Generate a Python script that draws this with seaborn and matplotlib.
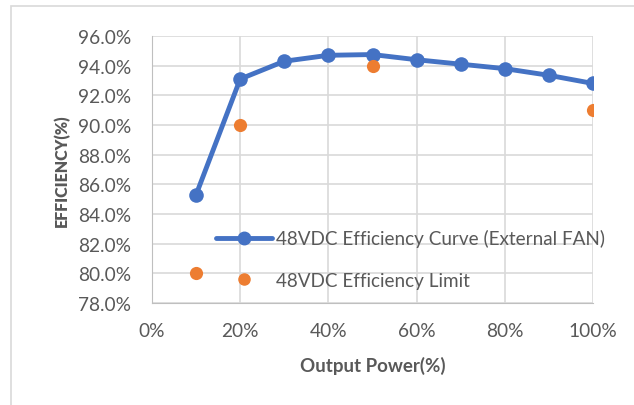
"""Efficiency vs. output power for the 48VDC supply."""

import matplotlib

matplotlib.use("Agg")
import matplotlib.pyplot as plt
import pandas as pd
import seaborn as sns
from matplotlib.lines import Line2D
from matplotlib.patches import Rectangle
from matplotlib.ticker import FuncFormatter, MultipleLocator

load_pct = [10, 20, 30, 40, 50, 60, 70, 80, 90, 100]
curve_eff = [85.3, 93.1, 94.3, 94.7, 94.75, 94.4, 94.1, 93.8, 93.35, 92.8]
limit_load_pct = [10, 20, 50, 100]
limit_eff = [80.0, 90.0, 94.0, 91.0]

curve_label = "48VDC Efficiency Curve (External FAN)"
limit_label = "48VDC Efficiency Limit"

BLUE = "#4472C4"
ORANGE = "#ED7D31"
TEXT = "#595959"
GRID = "#D9D9D9"

sns.set_style("white")
plt.rcParams["font.family"] = ["Lato", "DejaVu Sans"]

curve = pd.DataFrame({"load": load_pct, "eff": curve_eff})
limit = pd.DataFrame({"load": limit_load_pct, "eff": limit_eff})

fig = plt.figure(figsize=(6.34, 4.06), dpi=100)
ax = fig.add_axes([152 / 634, 1 - 304 / 406, 441 / 634, 267 / 406])

sns.lineplot(data=curve, x="load", y="eff", ax=ax, color=BLUE, linewidth=3.5,
             marker="o", markersize=10.5, markeredgewidth=0, zorder=3)
sns.scatterplot(data=limit, x="load", y="eff", ax=ax, color=ORANGE, s=90,
                linewidth=0, zorder=4)

ax.set_xlim(0, 100)
ax.set_ylim(78, 96)
ax.xaxis.set_major_locator(MultipleLocator(20))
ax.yaxis.set_major_locator(MultipleLocator(2))
ax.xaxis.set_major_formatter(FuncFormatter(lambda v, _: f"{v:.0f}%"))
ax.yaxis.set_major_formatter(FuncFormatter(lambda v, _: f"{v:.1f}%"))
ax.grid(True, color=GRID, linewidth=1.2)
ax.set_axisbelow(True)
for side in ax.spines.values():
    side.set_visible(False)
ax.spines["left"].set_visible(True)
ax.spines["bottom"].set_visible(True)
ax.spines["left"].set_color("#BFBFBF")
ax.spines["bottom"].set_color("#BFBFBF")
ax.tick_params(axis="both", length=0, labelsize=13.8, labelcolor=TEXT)
ax.tick_params(axis="x", pad=14)
ax.tick_params(axis="y", pad=15)

ax.set_xlabel("Output Power(%)", fontsize=13.5, fontweight="bold", color=TEXT,
              labelpad=12)
ax.set_ylabel("EFFICIENCY(%)", fontsize=11.5, fontweight="heavy", color=TEXT,
              labelpad=6)

handles = [
    Line2D([], [], color=BLUE, linewidth=3.5, marker="o", markersize=9),
    Line2D([], [], color=ORANGE, linestyle="none", marker="o", markersize=8),
]
fig.legend(handles, [curve_label, limit_label], loc="center left",
           bbox_to_anchor=(216 / 634, 1 - 260 / 406), frameon=False,
           fontsize=13.6, labelcolor=TEXT, handlelength=2.95,
           handletextpad=0.2, labelspacing=1.3, borderpad=0,
           borderaxespad=0)

fig.patches.append(Rectangle((11 / 634, -0.1), 1.2, 1.1 - 7 / 406,
                             transform=fig.transFigure, fill=False,
                             edgecolor=GRID, linewidth=1.2))

fig.savefig("out.png", dpi=100)
